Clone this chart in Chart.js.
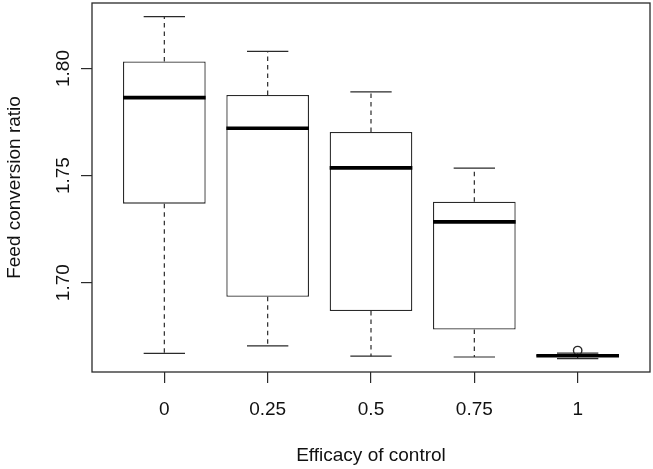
<!DOCTYPE html>
<html>
<head>
<meta charset="utf-8">
<script src="https://cdn.jsdelivr.net/npm/chart.js@4"></script>
<style>
html,body{margin:0;padding:0;background:#fff;}
#wrap{width:653px;height:469px;position:relative;}
</style>
</head>
<body>
<div id="wrap"><canvas id="c"></canvas></div>
<script>
// ---- data ----
const categories = ['0', '0.25', '0.5', '0.75', '1'];
const lowerWhisker = [1.6670, 1.6705, 1.6657, 1.6653, 1.6645];
const q1 = [1.7369, 1.6934, 1.6868, 1.6781, 1.6656];
const median = [1.7864, 1.7721, 1.7536, 1.7284, 1.6659];
const q3 = [1.8033, 1.7877, 1.7704, 1.7378, 1.6662];
const upperWhisker = [1.8242, 1.8080, 1.7891, 1.7535, 1.6671];
const outlierGroup = [5];
const outlierValue = [1.6683];
const yTicks = [1.70, 1.75, 1.80];
const xTicks = [1, 2, 3, 4, 5];

const INK = '#2a2a2a';
const FONT = "'Liberation Sans', Arial, sans-serif";

const boxPlugin = {
  id: 'boxParts',
  beforeDatasetsDraw(chart) {
    const {ctx, scales: {x, y}} = chart;
    ctx.save();
    ctx.strokeStyle = INK;
    ctx.lineWidth = 1.2;
    const unit = x.getPixelForValue(2) - x.getPixelForValue(1);
    const half = unit * 0.2;
    categories.forEach((c, i) => {
      const cx = x.getPixelForValue(i + 1);
      ctx.setLineDash([4.5, 4]);
      ctx.beginPath();
      ctx.moveTo(cx, y.getPixelForValue(q3[i]));
      ctx.lineTo(cx, y.getPixelForValue(upperWhisker[i]));
      ctx.moveTo(cx, y.getPixelForValue(q1[i]));
      ctx.lineTo(cx, y.getPixelForValue(lowerWhisker[i]));
      ctx.stroke();
      ctx.setLineDash([]);
      ctx.beginPath();
      const yu = y.getPixelForValue(upperWhisker[i]);
      const yl = y.getPixelForValue(lowerWhisker[i]);
      ctx.moveTo(cx - half, yu); ctx.lineTo(cx + half, yu);
      ctx.moveTo(cx - half, yl); ctx.lineTo(cx + half, yl);
      ctx.stroke();
    });
    ctx.restore();
  },
  afterDatasetsDraw(chart) {
    const {ctx, chartArea: a, scales: {x, y}} = chart;
    ctx.save();
    const unit = x.getPixelForValue(2) - x.getPixelForValue(1);
    const halfBox = unit * 0.4;
    ctx.strokeStyle = '#000';
    ctx.lineWidth = 3.6;
    ctx.lineCap = 'butt';
    categories.forEach((c, i) => {
      const cx = x.getPixelForValue(i + 1);
      const ym = y.getPixelForValue(median[i]);
      ctx.beginPath();
      ctx.moveTo(cx - halfBox, ym);
      ctx.lineTo(cx + halfBox, ym);
      ctx.stroke();
    });
    ctx.strokeStyle = INK;
    ctx.lineWidth = 1.3;
    ctx.strokeRect(a.left, a.top, a.right - a.left, a.bottom - a.top);
    ctx.restore();
  }
};

new Chart(document.getElementById('c'), {
  data: {
    datasets: [
      {
        type: 'bar',
        data: categories.map((c, i) => ({x: i + 1, y: [q1[i], q3[i]]})),
        backgroundColor: '#fff',
        borderColor: INK,
        borderWidth: 1.3,
        borderSkipped: false,
        categoryPercentage: 1,
        barPercentage: 0.8,
        order: 2
      },
      {
        type: 'scatter',
        data: outlierGroup.map((g, i) => ({x: g, y: outlierValue[i]})),
        pointStyle: 'circle',
        pointRadius: 4.2,
        pointBackgroundColor: 'rgba(255,255,255,0)',
        pointBorderColor: INK,
        pointBorderWidth: 1.4,
        order: 0
      }
    ]
  },
  options: {
    responsive: true,
    maintainAspectRatio: false,
    animation: false,
    layout: {autoPadding: false, padding: {top: 3, right: 3, left: 0, bottom: 0}},
    plugins: {legend: {display: false}, tooltip: {enabled: false}},
    scales: {
      x: {
        type: 'linear',
        min: 0.3,
        max: 5.7,
        offset: false,
        afterBuildTicks: s => { s.ticks = xTicks.map(v => ({value: v})); },
        afterFit: s => { s.height = 97; s.paddingLeft = 0; s.paddingRight = 0; },
        grid: {display: true, offset: false, drawOnChartArea: false, drawTicks: true, tickLength: 11, color: INK, lineWidth: 1.2},
        border: {display: false},
        ticks: {
          autoSkip: false,
          maxRotation: 0,
          minRotation: 0,
          padding: 15,
          color: '#111',
          font: {family: FONT, size: 19},
          callback: v => categories[v - 1]
        },
        title: {display: true, text: 'Efficacy of control', color: '#111',
                font: {family: FONT, size: 19}, padding: {top: 0, bottom: 2}}
      },
      y: {
        min: 1.6583,
        max: 1.8306,
        afterBuildTicks: s => { s.ticks = yTicks.map(v => ({value: v})); },
        afterFit: s => { s.width = 92; s.paddingTop = 0; s.paddingBottom = 0; },
        grid: {display: true, offset: false, drawOnChartArea: false, drawTicks: true, tickLength: 11, color: INK, lineWidth: 1.2},
        border: {display: false},
        ticks: {
          autoSkip: false,
          minRotation: 90,
          maxRotation: 90,
          crossAlign: 'center',
          padding: -1,
          color: '#111',
          font: {family: FONT, size: 19},
          callback: v => v.toFixed(2)
        },
        title: {display: true, text: 'Feed conversion ratio', color: '#111',
                font: {family: FONT, size: 19}, padding: {top: 3, bottom: 0}}
      }
    }
  },
  plugins: [boxPlugin]
});
</script>
</body>
</html>
